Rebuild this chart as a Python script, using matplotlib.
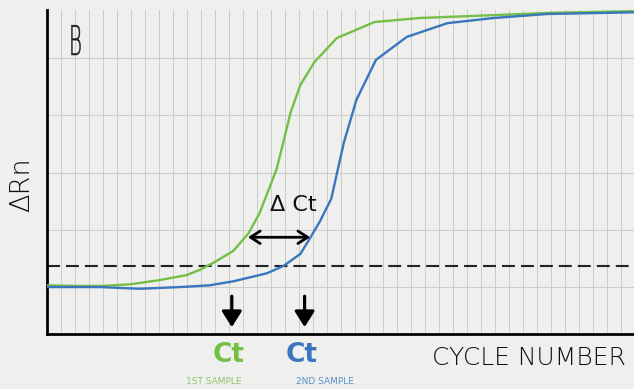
import numpy as np
import matplotlib
matplotlib.use('Agg')
import matplotlib.pyplot as plt
from matplotlib.textpath import TextPath
from matplotlib.patches import PathPatch
from matplotlib.transforms import Affine2D
from matplotlib.font_manager import FontProperties

# cycle number vs delta Rn
cycles_1 = [0, 2, 4, 6, 8, 10, 11, 12, 13.3, 14.4, 15.2, 15.8, 16.4, 16.9, 17.4,
            18.1, 19.1, 20.7, 23.4, 26.6, 31.9, 35.9, 42]
rn_1 = [0.03, 0.02, 0.02, 0.05, 0.12, 0.21, 0.31, 0.44, 0.63, 0.94, 1.30, 1.68,
        2.06, 2.55, 3.05, 3.53, 3.93, 4.35, 4.63, 4.70, 4.75, 4.79, 4.82]
cycles_2 = [0, 3.8, 6.6, 9.5, 11.6, 13.3, 15.7, 16.9, 18.1, 18.8, 19.5, 20.3,
            21.2, 22.1, 23.5, 25.7, 28.6, 31.9, 35.7, 42]
rn_2 = [0.0, 0.0, -0.03, 0.0, 0.03, 0.10, 0.24, 0.37, 0.58, 0.86, 1.15, 1.54,
        2.52, 3.27, 3.97, 4.37, 4.61, 4.70, 4.77, 4.80]
threshold = 0.37
ct_1 = 13.2
ct_2 = 18.4
delta_ct = [14.35, 18.8]
delta_ct_y = 0.87

paper = '#efefed'
green = '#74bf45'
blue = '#3a76bd'

fig = plt.figure(figsize=(6.34, 3.89), dpi=100)
fig.patch.set_facecolor(paper)
ax = fig.add_axes([47/634, 55/389, 587/634, 324/389])
ax.set_facecolor(paper)
ax.set_xlim(0, 587/14)
ax.set_ylim(-0.82, 4.84)

# graph paper
for gx in np.arange(1, 42):
    ax.axvline(gx, color='#cbcbc9', lw=0.7, zorder=0)
for gy in range(0, 5):
    ax.axhline(gy, color='#cbcbc9', lw=0.7, zorder=0)

ax.plot(cycles_1, rn_1, color=green, lw=1.7, zorder=3)
ax.plot(cycles_2, rn_2, color=blue, lw=1.7, zorder=3)
ax.axhline(threshold, color='#222222', lw=1.5, linestyle=(0, (6.2, 2.9)), zorder=2)

for x in [ct_1, ct_2]:
    ax.annotate('', xy=(x, -0.70), xytext=(x, -0.16),
                arrowprops=dict(arrowstyle='-|>,head_width=0.6,head_length=0.95',
                                lw=2.3, color='black', shrinkA=0, shrinkB=0,
                                mutation_scale=10))
ax.annotate('', xy=(delta_ct[0], delta_ct_y), xytext=(delta_ct[1], delta_ct_y),
            arrowprops=dict(arrowstyle='<->,head_width=0.45,head_length=0.7',
                            lw=2, color='black', shrinkA=0, shrinkB=0,
                            mutation_scale=10))
ax.text(17.6, 1.43, 'Δ Ct', fontsize=16, ha='center', va='center', color='#111111')

for s in ['top', 'right']:
    ax.spines[s].set_visible(False)
ax.spines['left'].set_linewidth(2)
ax.spines['bottom'].set_linewidth(2)
ax.set_xticks([])
ax.set_yticks([])

# tall narrow hand-drawn B
tp = TextPath((0, 0), 'B', size=41, prop=FontProperties(family='DejaVu Sans', weight='light'))
tp = Affine2D().scale(0.48, 1.0).translate(69, 389 - 55).transform_path(tp)
fig.patches.append(PathPatch(tp, facecolor='#1a1a1a', edgecolor='#1a1a1a', lw=0.3,
                             transform=None, figure=fig))

fig.text(22/634, 1 - 185/389, 'ΔRn', rotation=90, fontsize=19.5, ha='center',
         va='center', color='#111111', fontweight='light')
fig.text(229/634, 1 - 355/389, 'Ct', fontsize=19, fontweight='bold', color=green,
         ha='center', va='center')
fig.text(302/634, 1 - 355/389, 'Ct', fontsize=19, fontweight='bold', color=blue,
         ha='center', va='center')
fig.text(214/634, 1 - 381/389, '1ST SAMPLE', fontsize=6.5, color='#8cc96a',
         ha='center', va='center')
fig.text(325/634, 1 - 381/389, '2ND SAMPLE', fontsize=6.5, color='#5b8fcb',
         ha='center', va='center')
fig.text(529/634, 1 - 358/389, 'CYCLE NUMBER', fontsize=18, color='#111111',
         ha='center', va='center', fontweight='light')

fig.savefig('out.png', dpi=100, facecolor=paper)
